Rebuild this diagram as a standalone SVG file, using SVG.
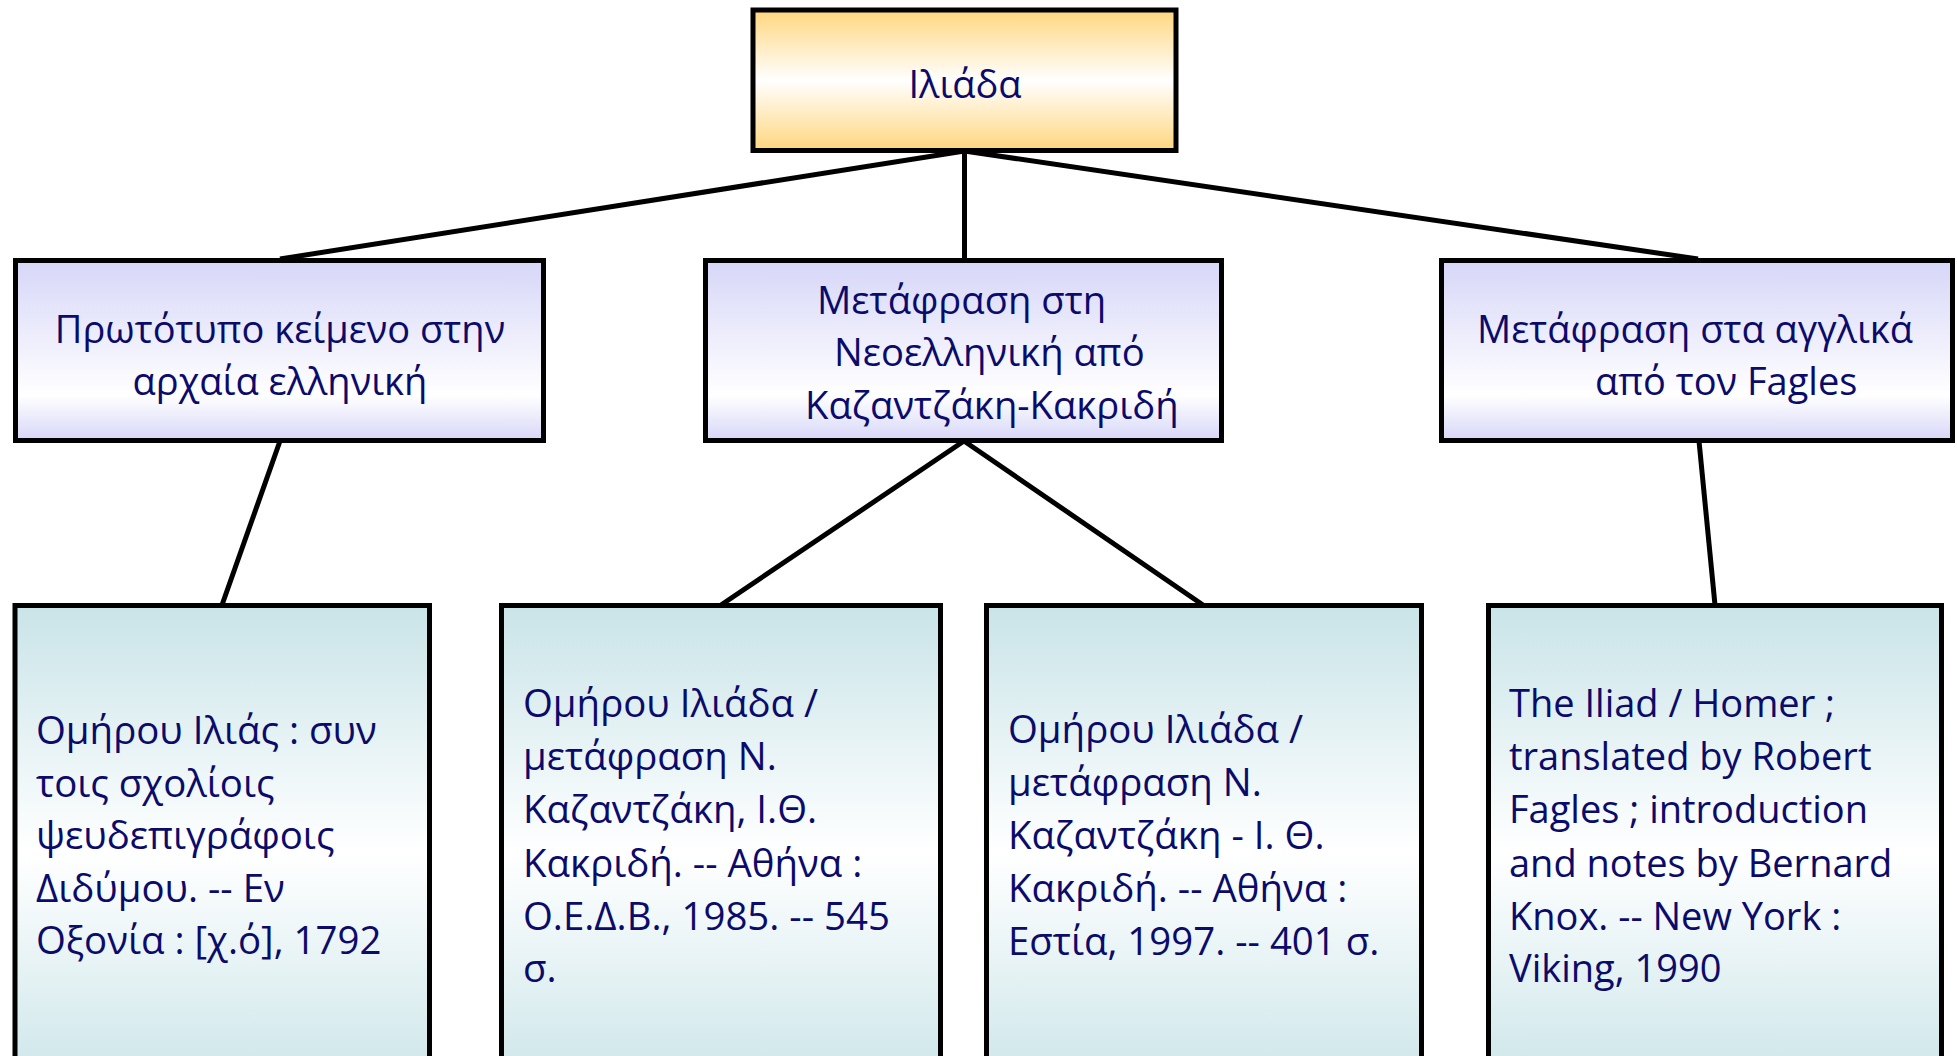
<svg xmlns="http://www.w3.org/2000/svg" width="1957" height="1056" viewBox="0 0 1957 1056">
<style>
.box{stroke:#000;stroke-width:5}
.t{font-family:"Open Sans","Noto Sans","DejaVu Sans",sans-serif;font-size:38px;fill:#0b0b6b}
.m{font-size:38.2px}
.b{font-size:38.4px}
.c{text-anchor:middle}
.ln{stroke:#000;stroke-width:5;fill:none}
</style>
<defs>
<linearGradient id="gGold" x1="0" y1="0" x2="0" y2="1">
<stop offset="0" stop-color="#FFD67E"/><stop offset="0.5" stop-color="#FFFFFF"/><stop offset="1" stop-color="#FFD67E"/>
</linearGradient>
<linearGradient id="gLav" x1="0" y1="0" x2="0" y2="1">
<stop offset="0" stop-color="#D6D6F8"/><stop offset="0.75" stop-color="#FFFFFF"/><stop offset="1" stop-color="#D6D6F8"/>
</linearGradient>
<linearGradient id="gTeal" x1="0" y1="0" x2="0" y2="1">
<stop offset="0" stop-color="#C9E4E8"/><stop offset="0.5" stop-color="#FFFFFF"/><stop offset="1" stop-color="#C9E4E8"/>
</linearGradient>
</defs>
<rect width="1957" height="1056" fill="#FFFFFF"/>
<g id="connectors">
<line class="ln" x1="964.5" y1="151" x2="280" y2="259"/>
<line class="ln" x1="964.5" y1="151" x2="964.5" y2="259"/>
<line class="ln" x1="964.5" y1="151" x2="1698" y2="259"/>
<line class="ln" x1="280" y1="441" x2="222" y2="605"/>
<line class="ln" x1="964" y1="441" x2="721" y2="605"/>
<line class="ln" x1="964" y1="441" x2="1203" y2="605"/>
<line class="ln" x1="1699" y1="441" x2="1715" y2="605"/>
</g>
<g id="n_iliada">
<rect class="box" x="753" y="10" width="423" height="140.5" fill="url(#gGold)"/>
<text class="t c" x="965" y="98">Ιλιάδα</text>
</g>
<g id="n_original">
<rect class="box" x="15.5" y="260.5" width="528" height="180" fill="url(#gLav)"/>
<text class="t c" x="280" y="343">Πρωτότυπο κείμενο στην</text>
<text class="t c" x="280" y="395">αρχαία ελληνική</text>
</g>
<g id="n_modern">
<rect class="box" x="705.5" y="260.5" width="516" height="180" fill="url(#gLav)"/>
<text class="t m" x="817" y="314">Μετάφραση στη</text>
<text class="t m" x="834" y="366">Νεοελληνική από</text>
<text class="t m" x="805" y="419">Καζαντζάκη-Κακριδή</text>
</g>
<g id="n_english">
<rect class="box" x="1441.5" y="260.5" width="511" height="180" fill="url(#gLav)"/>
<text class="t" x="1477" y="343">Μετάφραση στα αγγλικά</text>
<text class="t" x="1595" y="395">από τον Fagles</text>
</g>
<g id="n_ed1792">
<rect class="box" x="15" y="605.5" width="414.5" height="495" fill="url(#gTeal)"/>
<text class="t b" x="36" y="744">Ομήρου Ιλιάς : συν</text>
<text class="t b" x="36" y="797">τοις σχολίοις</text>
<text class="t b" x="36" y="849">ψευδεπιγράφοις</text>
<text class="t b" x="36" y="902">Διδύμου. -- Εν</text>
<text class="t b" x="36" y="954">Οξονία : [χ.ό], 1792</text>
</g>
<g id="n_ed1985">
<rect class="box" x="501.5" y="605.5" width="439" height="495" fill="url(#gTeal)"/>
<text class="t b" x="523" y="717">Ομήρου Ιλιάδα /</text>
<text class="t b" x="523" y="770">μετάφραση Ν.</text>
<text class="t b" x="523" y="823">Καζαντζάκη, Ι.Θ.</text>
<text class="t b" x="523" y="877">Κακριδή. -- Αθήνα :</text>
<text class="t b" x="523" y="930">Ο.Ε.Δ.Β., 1985. -- 545</text>
<text class="t b" x="523" y="982">σ.</text>
</g>
<g id="n_ed1997">
<rect class="box" x="986.5" y="605.5" width="435" height="495" fill="url(#gTeal)"/>
<text class="t b" x="1008" y="743">Ομήρου Ιλιάδα /</text>
<text class="t b" x="1008" y="796">μετάφραση Ν.</text>
<text class="t b" x="1008" y="849">Καζαντζάκη - Ι. Θ.</text>
<text class="t b" x="1008" y="902">Κακριδή. -- Αθήνα :</text>
<text class="t b" x="1008" y="955">Εστία, 1997. -- 401 σ.</text>
</g>
<g id="n_fagles">
<rect class="box" x="1488.5" y="605.5" width="453" height="495" fill="url(#gTeal)"/>
<text class="t" x="1509" y="717">The Iliad / Homer ;</text>
<text class="t" x="1509" y="770">translated by Robert</text>
<text class="t" x="1509" y="823">Fagles ; introduction</text>
<text class="t" x="1509" y="877">and notes by Bernard</text>
<text class="t" x="1509" y="930">Knox. -- New York :</text>
<text class="t" x="1509" y="982">Viking, 1990</text>
</g>
</svg>
